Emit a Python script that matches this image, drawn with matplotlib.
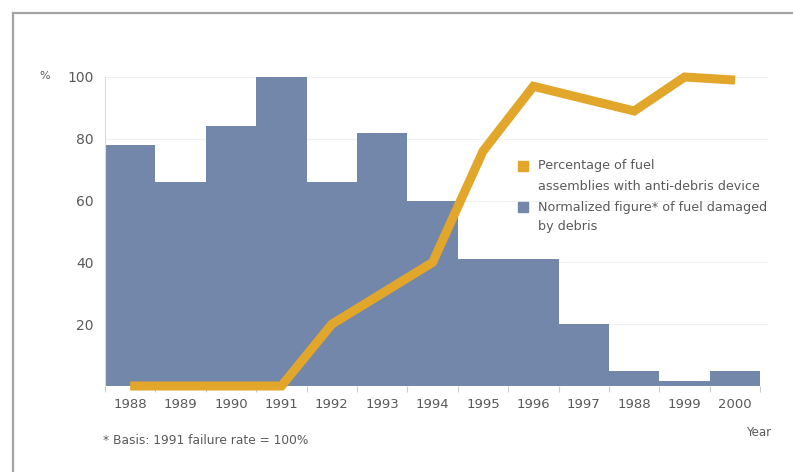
import matplotlib
matplotlib.use("Agg")
import matplotlib.pyplot as plt
from matplotlib.patches import Rectangle
from matplotlib.lines import Line2D

plt.rcParams['font.family'] = ['DejaVu Sans']

years = [1988, 1989, 1990, 1991, 1992, 1993, 1994, 1995, 1996, 1997, 1998, 1999, 2000]
year_labels = ["1988", "1989", "1990", "1991", "1992", "1993", "1994",
               "1995", "1996", "1997", "1988", "1999", "2000"]
damaged = [78, 66, 84, 100, 66, 82, 60, 41, 41, 20, 5, 1.5, 5]
anti_debris = [0, 0, 0, 0, 20, 30, 40, 76, 97, 93, 89, 100, 99]
y_ticks = [20, 40, 60, 80, 100]

W, H = 793, 472
BLUE = "#7387aa"
ORANGE = "#e2a62a"
TEXT = "#5a5a5a"

fig = plt.figure(figsize=(W / 100, H / 100), dpi=100)
fig.patch.set_facecolor("white")

def fx(px):
    return px / W

def fy(py):
    return 1 - py / H

# outer frame (top and left edges)
fig.add_artist(Line2D([fx(13), fx(W)], [fy(13), fy(13)], color="#a4a4a4", lw=1.6))
fig.add_artist(Line2D([fx(13), fx(13)], [fy(13), fy(H)], color="#a4a4a4", lw=1.6))

left, right, bottom, top = 105, 768, 386, 77
ax = fig.add_axes([fx(left), fy(bottom), fx(right) - fx(left), fy(top) - fy(bottom)])
ax.set_xlim(1987.5, 1987.5 + (right - left) / 50.4)
ax.set_ylim(0, 100)

for yv in y_ticks:
    ax.axhline(yv, color="#eef0f3", lw=0.8, zorder=0)

ax.bar(years, damaged, width=1.0, color=BLUE, linewidth=0, zorder=2)
ax.plot(years, anti_debris, color=ORANGE, lw=6.5, solid_joinstyle="miter",
        solid_capstyle="butt", zorder=3, clip_on=False)

for s in ["top", "right", "bottom"]:
    ax.spines[s].set_visible(False)
ax.spines["left"].set_color("#d8dce3")
ax.spines["left"].set_linewidth(0.8)

ax.set_xticks(years)
ax.set_xticklabels(year_labels)
ax.set_xticks([y - 0.5 for y in years] + [2000.5], minor=True)
ax.tick_params(axis="x", which="major", length=0, pad=9, labelsize=9.5, labelcolor=TEXT)
ax.tick_params(axis="x", which="minor", length=4, width=0.8, color="#c8ccd4")
ax.set_yticks(y_ticks)
ax.tick_params(axis="y", length=0, pad=8, labelsize=10, labelcolor=TEXT)

fig.text(fx(39), fy(76), "%", fontsize=8, color=TEXT, ha="left", va="center")
fig.text(fx(759), fy(433), "Year", fontsize=8.5, color=TEXT, ha="center", va="center")
fig.text(fx(103), fy(441), "* Basis: 1991 failure rate = 100%", fontsize=8.8,
         color=TEXT, ha="left", va="center")

# legend
fig.add_artist(Rectangle((fx(518), fy(171)), fx(10), 10 / H, color=ORANGE,
                         transform=fig.transFigure))
fig.add_artist(Rectangle((fx(518), fy(212)), fx(10), 10 / H, color=BLUE,
                         transform=fig.transFigure))
legend_lines = [(166, "Percentage of fuel"),
                (187, "assemblies with anti-debris device"),
                (207, "Normalized figure* of fuel damaged"),
                (226, "by debris")]
for py, txt in legend_lines:
    fig.text(fx(538), fy(py), txt, fontsize=9.2, color=TEXT, ha="left", va="center")

fig.savefig("out.png", dpi=100, facecolor="white")
